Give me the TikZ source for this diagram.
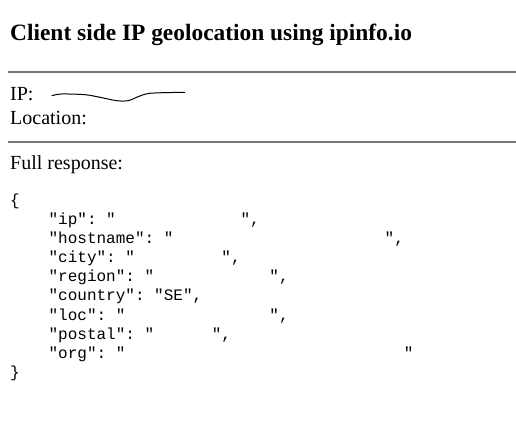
\documentclass[tikz,border=0pt]{standalone}
\usepackage{fontspec}
\setmainfont{Liberation Serif}
\setmonofont{Liberation Mono}
\usepackage{tikz}

\definecolor{hrgray}{RGB}{118,118,118}
\newcommand{\blank}[1]{\hspace{#1\fontcharwd\font`0}}

\tikzset{
	txt/.style={anchor=base west,inner sep=0pt,font=\fontsize{20}{24}\selectfont},
	heading/.style={anchor=base west,inner sep=0pt,font=\fontsize{23.4}{28}\selectfont\bfseries},
	code/.style={anchor=base west,inner sep=0pt,font=\fontsize{16}{19}\selectfont\ttfamily},
	hrule/.style={draw=hrgray,line width=2pt}
}

\begin{document}
\begin{tikzpicture}[x=1pt,y=-1pt]
	\useasboundingbox (0,0) rectangle (516,427);
	
	% Draw nodes
	\node[heading] (Title) at (10,41) {Client side IP geolocation using ipinfo.io};
	\node[txt] (IP) at (10,101) {IP:};
	\node[txt] (Loc) at (10,125) {Location:};
	\node[txt] (Full) at (10,170) {Full response:};
	
	% Draw the response, values left blank
	\node[code] (Open) at (10,206) {\{};
	\node[code] (Ip) at (48.4,225) {"ip": "\blank{13}",};
	\node[code] (Host) at (48.4,244) {"hostname": "\blank{22}",};
	\node[code] (City) at (48.4,263) {"city": "\blank{9}",};
	\node[code] (Region) at (48.4,282) {"region": "\blank{12}",};
	\node[code] (Country) at (48.4,301) {"country": "SE",};
	\node[code] (Loc2) at (48.4,320) {"loc": "\blank{15}",};
	\node[code] (Postal) at (48.4,339) {"postal": "\blank{6}",};
	\node[code] (Org) at (48.4,358) {"org": "\blank{29}"};
	\node[code] (Close) at (10,377) {\}};
	
	% Draw rules and the scribble over the IP
	\draw[hrule] (8,72) -- (516,72);
	\draw[hrule] (8,142) -- (516,142);
	\draw[line width=1pt] plot[smooth] coordinates {(51.7,95.7) (61.7,94) (85,94.7) (100,97.3) (116.7,100.7) (128.3,100.7) (136.7,97.3) (150,93.3) (185,92.3)};
	
\end{tikzpicture}
\end{document}
